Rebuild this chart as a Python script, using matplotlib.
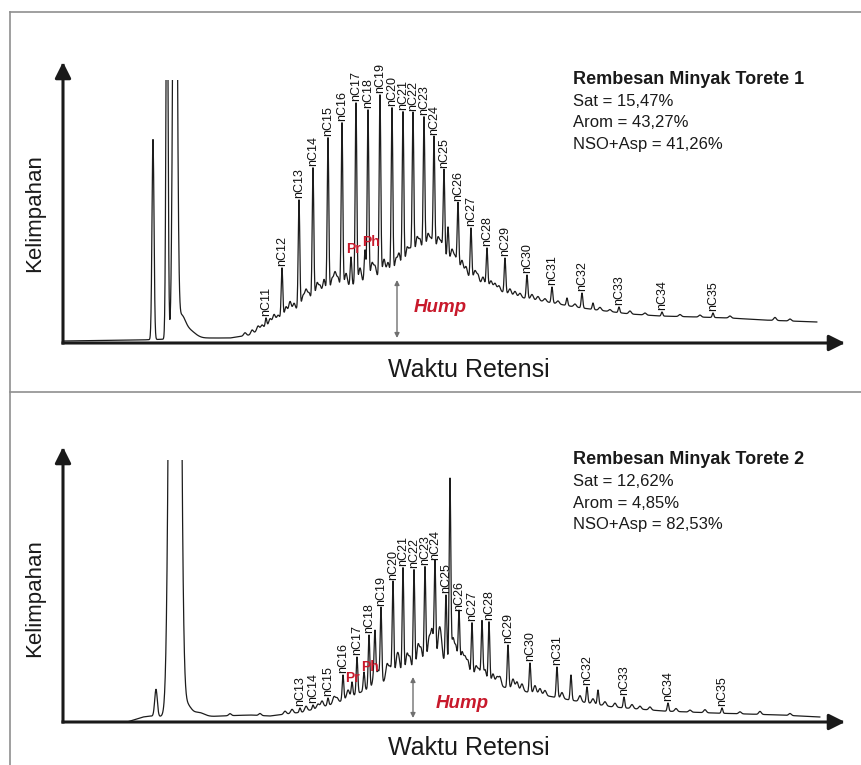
import numpy as np
import matplotlib.pyplot as plt
from matplotlib.lines import Line2D
from matplotlib.patches import Rectangle

plt.rcParams['font.family'] = ['Liberation Sans', 'DejaVu Sans']

W, H = 861, 765

# ---- Panel 1: Rembesan Minyak Torete 1 ----
t1_names = ['nC11', 'nC12', 'nC13', 'nC14', 'nC15', 'nC16', 'nC17', 'nC18', 'nC19',
            'nC20', 'nC21', 'nC22', 'nC23', 'nC24', 'nC25', 'nC26', 'nC27', 'nC28',
            'nC29', 'nC30', 'nC31', 'nC32', 'nC33', 'nC34', 'nC35']
t1_rt = [203, 219, 236, 250, 265, 279, 293, 305, 317, 329, 340, 350, 361, 371, 381,
         395, 408, 424, 442, 464, 489, 519, 556, 599, 650]
t1_apex = [25, 75, 143, 175, 205, 220, 240, 233, 248, 235, 231, 230, 226, 206, 173,
           140, 115, 95, 85, 68, 56, 50, 36, 31, 30]
# hump (UCM) lower envelope
t1_hump_rt = [0, 77, 137, 167, 187, 203, 219, 237, 250, 267, 284, 300, 317, 334, 350,
              364, 377, 387, 402, 417, 434, 450, 472, 490, 512, 534, 567, 597, 634,
              667, 700, 727, 754]
t1_hump_ab = [2, 3, 5, 5, 8, 16, 25, 35, 43, 50, 56, 61, 66, 69, 85,
              93, 90, 81, 68, 59, 53, 47, 43, 40, 36, 33, 29, 27, 26,
              25, 23, 22, 21]
# solvent / early peaks (rt, height, sigma)
t1_solv_rt = [90, 104, 112, 118, 126]
t1_solv_h = [200, 420, 700, 20, 8]
t1_solv_w = [1.0, 1.0, 1.8, 4.0, 6.0]
# other resolved peaks (Pr, Ph, ...)
t1_other_rt = [288, 302, 385, 504, 530]
t1_other_apex = [86, 93, 116, 45, 40]
# unresolved small peaks on the hump (height above hump)
t1_minor_rt = [182, 189, 195, 199, 207, 211, 215, 223, 227, 231,
               240, 243, 246, 254, 257, 261, 269, 272, 275, 283,
               297, 309, 312, 321, 325, 333, 336, 344, 347, 354,
               357, 365, 368, 375, 378, 389, 392, 399, 403, 412,
               415, 420, 428, 432, 436, 447, 452, 457, 469, 475,
               482, 495, 512, 537, 547, 567, 582, 617, 637, 667,
               712, 727]
t1_minor_h = [3, 4, 5, 4, 6, 8, 5, 9, 12, 8,
              10, 14, 9, 15, 11, 16, 13, 18, 12, 14,
              15, 16, 12, 17, 13, 15, 18, 16, 12, 18,
              14, 16, 12, 15, 12, 14, 10, 12, 9, 10,
              8, 8, 7, 6, 5, 6, 5, 4, 5, 4,
              3, 3, 3, 3, 2, 3, 2, 2, 2, 2,
              3, 2]
t1_stats = ['Sat = 15,47%', 'Arom = 43,27%', 'NSO+Asp = 41,26%']

# ---- Panel 2: Rembesan Minyak Torete 2 ----
t2_names = ['nC13', 'nC14', 'nC15', 'nC16', 'nC17', 'nC18', 'nC19', 'nC20', 'nC21',
            'nC22', 'nC23', 'nC24', 'nC25', 'nC26', 'nC27', 'nC28', 'nC29', 'nC30',
            'nC31', 'nC32', 'nC33', 'nC34', 'nC35']
t2_rt = [237, 250, 265, 280, 294, 306, 318, 330, 340, 351, 362, 372, 383, 396, 409,
         426, 445, 467, 494, 524, 561, 605, 659]
t2_apex = [14, 17, 24, 47, 65, 87, 114, 140, 154, 152, 155, 160, 127, 109, 99,
           100, 77, 59, 55, 35, 25, 19, 14]
t2_hump_rt = [64, 80, 87, 127, 157, 187, 207, 240, 274, 307, 332, 350, 367, 382, 397,
              417, 440, 474, 507, 550, 600, 650, 717, 757]
t2_hump_ab = [0, 5, 6, 4, 6, 7, 6, 10, 19, 34, 45, 49, 62, 60, 50,
              42, 35, 28, 22, 15, 11, 9, 7, 5]
t2_solv_rt = [93, 112, 124, 135]
t2_solv_h = [27, 2000, 12, 5]
t2_solv_w = [1.3, 3.5, 4.0, 6.0]
t2_other_rt = [289, 301, 312, 387, 419, 508, 535]
t2_other_apex = [40, 50, 82, 242, 100, 47, 32]
t2_minor_rt = [167, 197, 222, 229, 243, 255, 259, 271, 274, 285,
               311, 315, 324, 327, 334, 336, 344, 347, 355, 358,
               366, 369, 376, 378, 390, 393, 399, 402, 405, 413,
               416, 422, 430, 434, 437, 450, 454, 459, 472, 477,
               482, 499, 517, 530, 542, 552, 569, 577, 587, 613,
               627, 642, 677, 697, 727]
t2_minor_h = [2, 2, 3, 4, 5, 4, 6, 7, 5, 8,
              12, 14, 16, 12, 18, 14, 20, 16, 24, 18,
              22, 30, 26, 20, 28, 22, 20, 16, 14, 12,
              10, 12, 10, 8, 9, 10, 8, 7, 8, 6,
              5, 6, 6, 5, 4, 4, 4, 3, 3, 3,
              2, 3, 2, 3, 2]
t2_stats = ['Sat = 12,62%', 'Arom = 4,85%', 'NSO+Asp = 82,53%']

RED = '#c8192b'


def gauss(x, mu, h, s):
    return h * np.exp(-0.5 * ((x - mu) / s) ** 2)


def chromatogram(hump_rt, hump_ab, solv, alk, other, minor):
    x = np.arange(hump_rt[0], hump_rt[-1], 0.2)
    y = np.interp(x, hump_rt, hump_ab)
    for mu, h, s in zip(*solv):
        y += gauss(x, mu, h, s)
    for rts, apexes in (alk, other):
        for mu, a in zip(rts, apexes):
            y += gauss(x, mu, a - np.interp(mu, hump_rt, hump_ab), 0.8)
    for mu, h in zip(*minor):
        y += gauss(x, mu, h, 1.3)
    return x, y


def draw_panel(ax, ymax, clip_level, hump_rt, hump_ab, solv, names, rt, apex,
               other_rt, other_apex, minor, pr_off, ph_off, hump_arrow, hump_text):
    ax.set_xlim(0, 782)
    ax.set_ylim(0, ymax)
    ax.axis('off')

    x, y = chromatogram(hump_rt, hump_ab, solv, (rt, apex),
                        (other_rt, other_apex), minor)
    line, = ax.plot(x, y, color='#1c1c1c', lw=0.9)
    line.set_clip_path(Rectangle((0, 0), 782, clip_level, transform=ax.transData))

    for nm, r, a in zip(names, rt, apex):
        ax.annotate(nm, xy=(r, a), xytext=(0, 1.5), textcoords='offset points',
                    rotation=90, ha='center', va='bottom', fontsize=9, color='#111111')

    ax.annotate('Pr', xy=(other_rt[0], other_apex[0]), xytext=pr_off,
                textcoords='offset points', ha='center', va='center',
                fontsize=10, fontweight='bold', color=RED)
    ax.annotate('Ph', xy=(other_rt[1], other_apex[1]), xytext=ph_off,
                textcoords='offset points', ha='center', va='center',
                fontsize=10, fontweight='bold', color=RED)

    hx, hlo, hhi = hump_arrow
    ax.annotate('', xy=(hx, hlo), xytext=(hx, hhi),
                arrowprops=dict(arrowstyle='<|-|>', color='#707070', lw=1.0,
                                mutation_scale=7, shrinkA=0, shrinkB=0))
    ax.text(hump_text[0], hump_text[1], 'Hump', ha='center', va='center',
            fontsize=13.5, fontweight='bold', fontstyle='italic', color=RED)

    # axes with arrow heads
    ap = dict(arrowstyle='-|>', color='#1a1a1a', lw=2.2, mutation_scale=24,
              shrinkA=0, shrinkB=0, capstyle='projecting')
    ax.annotate('', xy=(0, 1), xytext=(0, 0), xycoords='axes fraction',
                textcoords='axes fraction', arrowprops=ap, annotation_clip=False)
    ax.annotate('', xy=(1, 0), xytext=(0, 0), xycoords='axes fraction',
                textcoords='axes fraction', arrowprops=ap, annotation_clip=False)


fig = plt.figure(figsize=(W / 100, H / 100), dpi=100)


def fx(px):
    return px / W


def fy(py):
    return 1 - py / H


ax1 = fig.add_axes([fx(63), fy(343), fx(845) - fx(63), fy(62) - fy(343)])
ax2 = fig.add_axes([fx(63), fy(722), fx(845) - fx(63), fy(447) - fy(722)])

draw_panel(ax1, 281, 263, t1_hump_rt, t1_hump_ab, (t1_solv_rt, t1_solv_h, t1_solv_w),
           t1_names, t1_rt, t1_apex, t1_other_rt, t1_other_apex,
           (t1_minor_rt, t1_minor_h), (1.5, 6), (4, 6), (334, 5, 63), (377, 35))
draw_panel(ax2, 275, 262, t2_hump_rt, t2_hump_ab, (t2_solv_rt, t2_solv_h, t2_solv_w),
           t2_names, t2_rt, t2_apex, t2_other_rt, t2_other_apex,
           (t2_minor_rt, t2_minor_h), (0.5, 3), (4, 3.5), (350, 4, 45), (399, 19))

# info text
for title, stats, ytop in (('Rembesan Minyak Torete 1', t1_stats, 79),
                           ('Rembesan Minyak Torete 2', t2_stats, 460)):
    fig.text(fx(573), fy(ytop), title, ha='left', va='center',
             fontsize=13, fontweight='bold', color='#1a1a1a')
    for i, s in enumerate(stats):
        fig.text(fx(573), fy(ytop + 22 + 21.5 * i), s, ha='left', va='center',
                 fontsize=12, color='#1a1a1a')

# axis titles
for yc in (213, 598):
    fig.text(fx(35), fy(yc), 'Kelimpahan', rotation=90, ha='center', va='center',
             fontsize=16, color='#1a1a1a')
for yc in (370, 748):
    fig.text(fx(469), fy(yc), 'Waktu Retensi', ha='center', va='center',
             fontsize=18, color='#1a1a1a')

# frame
fc = '#8f8f8f'
fig.add_artist(Line2D([fx(10), 1], [fy(12), fy(12)], color=fc, lw=1.2))
fig.add_artist(Line2D([fx(10), fx(10)], [0, fy(12)], color=fc, lw=1.2))
fig.add_artist(Line2D([fx(10), 1], [fy(392), fy(392)], color=fc, lw=1.2))

fig.savefig('out.png', dpi=100)
